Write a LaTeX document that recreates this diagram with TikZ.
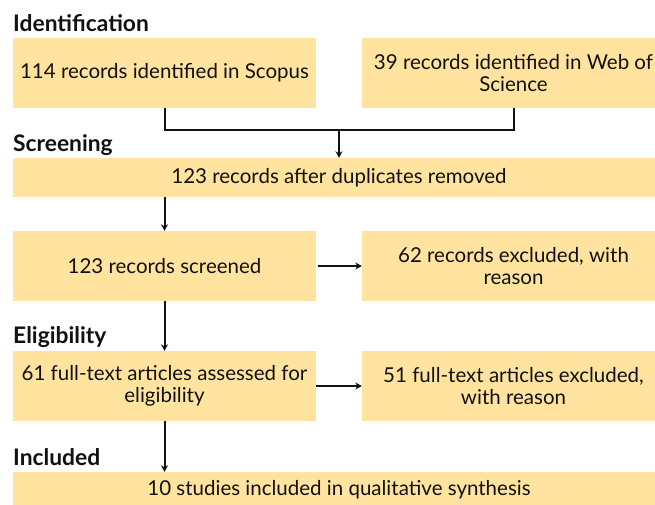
\documentclass[tikz,border=0pt]{standalone}
\usepackage{fontspec}
\setmainfont{Lato}
\usetikzlibrary{arrows.meta}
\definecolor{boxc}{HTML}{FFE39E}
\definecolor{linec}{HTML}{111111}
\newcommand{\bodyfont}{\fontsize{20.5}{22}\selectfont}
\newcommand{\headfont}{\fontsize{22.8}{24}\selectfont\bfseries}
\tikzset{
  stagebox/.style={fill=boxc, inner sep=0pt, minimum width=303pt, minimum height=70pt, align=center, font=\bodyfont, text=linec},
  widebox/.style={stagebox, minimum width=652pt},
  head/.style={anchor=base west, inner sep=0pt, font=\headfont, text=linec},
  conn/.style={draw=linec, line width=2pt},
  arr/.style={conn, -{Stealth[length=6.5pt,width=7pt]}}
}
\begin{document}
\begin{tikzpicture}[x=1pt,y=-1pt]
\useasboundingbox (0,0) rectangle (655,505);
\clip (0,0) rectangle (655,505);
\fill[white] (0,0) rectangle (655,505);
\node[head] (h1) at (13,32) {Identification};
\node[head] (h2) at (13,152) {Screening};
\node[head] (h3) at (13,343) {Eligibility};
\node[head] (h4) at (13,465) {Included};
\node[stagebox] (A) at (164.5,73) {114 records identified in Scopus};
\node[stagebox] (B) at (513.5,73) {39 records identified in Web of\\Science};
\node[widebox, minimum height=39pt] (C) at (339,177.5) {123 records after duplicates removed};
\node[stagebox] (D) at (164.5,266) {123 records screened};
\node[stagebox] (E) at (513.5,266) {62 records excluded, with\\reason};
\node[stagebox] (F) at (164.5,386) {61 full-text articles assessed for\\eligibility};
\node[stagebox] (G) at (513.5,386) {51 full-text articles excluded,\\with reason};
\node[widebox, minimum height=36pt] (H) at (339,490) {10 studies included in qualitative synthesis};
\coordinate (j) at (339,130);
\draw[conn] (A.south) |- (j) -| (B.south);
\draw[arr] (j) -- (C.north -| j);
\draw[arr] (C.south -| A.south) -- (D.north);
\draw[arr] (D.east) ++(2,0) -- (E.west);
\draw[arr] (D.south) -- (F.north);
\draw[arr] (F.east) -- (G.west);
\draw[arr] (F.south) -- (H.north -| F.south);
\end{tikzpicture}
\end{document}
